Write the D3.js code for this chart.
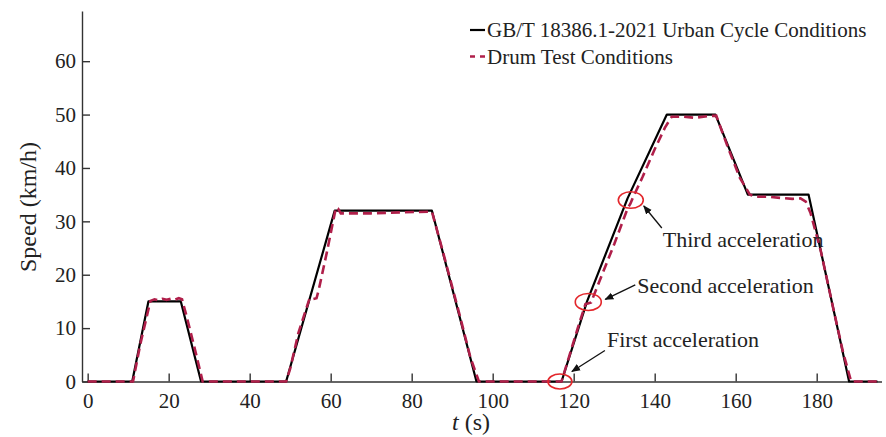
<!DOCTYPE html>
<html>
<head>
<meta charset="utf-8">
<script src="https://cdn.jsdelivr.net/npm/d3@7"></script>
<style>
  body { margin: 0; background: #fff; }
  text { font-family: "Liberation Serif", "Times New Roman", serif; fill: #222; }
</style>
</head>
<body>
<svg id="chart" width="886" height="437"></svg>
<script>
// standard cycle (GB/T 18386.1-2021 urban)
var stdT = [0, 11, 15, 23, 28, 49, 61, 85, 96, 117, 123.3, 133.3, 143, 155, 163, 178, 188, 195];
var stdV = [0, 0, 15, 15, 0, 0, 32, 32, 0, 0, 15, 34.3, 50, 50, 35, 35, 0, 0];

// drum test measurement
var drumT = [0, 11.2, 13, 15.5, 16.5, 17.5, 18.5, 19.5, 20.5, 21.5, 22.5, 23.3, 24.5, 26, 28.4,
             49, 50, 52, 54.8, 55.3, 56.5, 57, 59, 61.3, 61.8, 62.5, 70, 78, 85, 88, 92, 94.5, 96.6,
             117, 119, 121, 122.9, 123.5, 124.3, 124.8, 127, 130, 133.3, 134, 134.6, 137, 140, 142.5, 144.2,
             147, 150, 153, 155.2, 158, 161, 163.5, 165, 168, 171, 174, 176, 177.3, 178.5, 181, 184, 186.5, 188.5, 195];
var drumV = [0, 0, 7, 15.1, 15.4, 15.2, 15.5, 15.3, 15.5, 15.3, 15.6, 15.4, 12, 7.5, 0,
             0, 2.4, 9, 15.6, 15.4, 15.6, 17, 24, 32.6, 32.4, 31.5, 31.5, 31.7, 31.8, 23.5, 12, 4.5, 0,
             0, 5, 10, 14.5, 14.6, 14.8, 15.8, 20, 25.7, 32.4, 33.3, 34.4, 38.3, 43.5, 47.5, 49.6,
             49.6, 49.4, 49.7, 49.8, 44, 38.2, 35, 34.6, 34.6, 34.4, 34.2, 34.3, 33.7, 31.5, 24.5, 14, 5.5, 0, 0];

var xTicks = [0, 20, 40, 60, 80, 100, 120, 140, 160, 180];
var yTicks = [0, 10, 20, 30, 40, 50, 60];

var seriesNames = ["GB/T 18386.1-2021 Urban Cycle Conditions", "Drum Test Conditions"];

// marked points on the drum curve
var markT = [116.6, 123.6, 134.1];
var markV = [0, 14.9, 34.0];
var markLabels = ["First acceleration", "Second acceleration", "Third acceleration"];

var svg = d3.select("#chart");

var x = d3.scaleLinear().domain([-1.4, 196]).range([82, 881.5]),
    y = d3.scaleLinear().domain([0, 69.4]).range([381.5, 11]);

var red = "#b01f4a";
var serif = "'Liberation Serif', 'Times New Roman', serif";

// axes
var gx = svg.append("g")
  .attr("transform", "translate(0," + y(0) + ")")
  .call(d3.axisBottom(x).tickValues(xTicks).tickSizeInner(-8).tickSizeOuter(0).tickPadding(12));
var gy = svg.append("g")
  .attr("transform", "translate(" + x.range()[0] + ",0)")
  .call(d3.axisLeft(y).tickValues(yTicks).tickSizeInner(-8).tickSizeOuter(0).tickPadding(6));

[gx, gy].forEach(function (g) {
  g.select(".domain").attr("stroke", "#333").attr("stroke-width", 1.4);
  g.selectAll(".tick line").attr("stroke", "#333").attr("stroke-width", 1.4);
  g.selectAll(".tick text").style("font-size", "21px").attr("fill", "#222")
    .style("font-family", serif);
});

// axis labels
svg.append("text")
  .attr("text-anchor", "middle")
  .attr("transform", "translate(36,207)rotate(-90)")
  .style("font-size", "24px")
  .text("Speed (km/h)");

var xl = svg.append("text")
  .attr("x", 471)
  .attr("y", 430)
  .attr("text-anchor", "middle")
  .style("font-size", "24px")
  .style("font-family", serif);
xl.append("tspan").style("font-style", "italic").style("font-family", serif).text("t");
xl.append("tspan").style("font-family", serif).text(" (s)");

// lines
var line = d3.line()
  .x(function (d) { return x(d[0]); })
  .y(function (d) { return y(d[1]); });

svg.append("path")
  .datum(d3.zip(stdT, stdV))
  .attr("d", line)
  .attr("fill", "none")
  .attr("stroke", "#000")
  .attr("stroke-width", 2.2)
  .attr("stroke-linejoin", "round");

svg.append("path")
  .datum(d3.zip(drumT, drumV))
  .attr("d", line)
  .attr("fill", "none")
  .attr("stroke", red)
  .attr("stroke-width", 2.6)
  .attr("stroke-dasharray", "9,5");

// legend
var legend = svg.append("g");
[0, 1].forEach(function (i) {
  var ly = 30 + i * 26.5;
  legend.append("line")
    .attr("x1", 470).attr("x2", 485).attr("y1", ly).attr("y2", ly)
    .attr("stroke", i == 0 ? "#000" : red)
    .attr("stroke-width", i == 0 ? 2.2 : 2.6)
    .attr("stroke-dasharray", i == 0 ? null : "5,5");
  legend.append("text")
    .attr("x", 487).attr("y", ly + 7)
    .style("font-size", "21px")
    .text(seriesNames[i]);
});

// annotations: ellipse, arrow and label per marked point
svg.append("defs").append("marker")
  .attr("id", "head")
  .attr("viewBox", "0 0 10 10")
  .attr("refX", 9).attr("refY", 5)
  .attr("markerWidth", 9).attr("markerHeight", 9)
  .attr("markerUnits", "userSpaceOnUse")
  .attr("orient", "auto")
  .append("path").attr("d", "M0,1 L10,5 L0,9 Z").attr("fill", "#111");

var circR = [[12, 7.5], [13, 8.5], [12.5, 8.3]];
var arrowOff = [[45, -31, 12, -10], [47, -17, 17, -2.5], [31, 28, 13, 6]];
var textOff = [[47, -35], [49, -9], [32, 47]];

markT.forEach(function (t, i) {
  var cx = x(t), cy = y(markV[i]);
  svg.append("ellipse")
    .attr("cx", cx).attr("cy", cy)
    .attr("rx", circR[i][0]).attr("ry", circR[i][1])
    .attr("fill", "none").attr("stroke", "#e3262b").attr("stroke-width", 1.6);
  var a = arrowOff[i];
  svg.append("line")
    .attr("x1", cx + a[0]).attr("y1", cy + a[1])
    .attr("x2", cx + a[2]).attr("y2", cy + a[3])
    .attr("stroke", "#111").attr("stroke-width", 1.3)
    .attr("marker-end", "url(#head)");
  svg.append("text")
    .attr("x", cx + textOff[i][0]).attr("y", cy + textOff[i][1])
    .style("font-size", "22px")
    .text(markLabels[i]);
});
</script>
</body>
</html>
